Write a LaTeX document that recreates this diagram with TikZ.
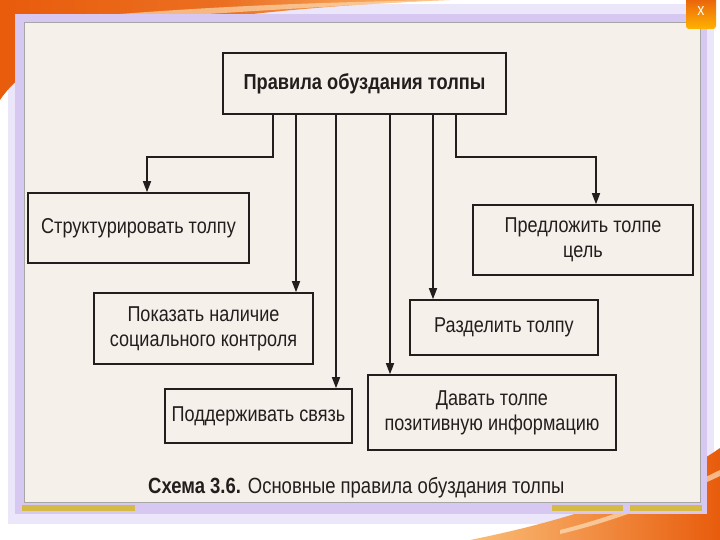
\documentclass[tikz,border=0pt]{standalone}
\usepackage{fontspec}
\newfontfamily\dfont{Liberation Sans}[FakeStretch=0.84]
\usetikzlibrary{arrows.meta}
\definecolor{beige}{RGB}{246,240,234}
\definecolor{lav}{RGB}{214,200,240}
\definecolor{lavlight}{RGB}{236,230,250}
\definecolor{ink}{RGB}{34,30,30}
\definecolor{orngA}{RGB}{232,92,12}
\definecolor{orngB}{RGB}{250,190,120}
\definecolor{gold}{RGB}{214,186,70}
\tikzset{
  box/.style={draw=ink, line width=1.6pt, fill=beige, align=center, inner sep=0pt,
    font=\dfont\fontsize{21.5}{25}\selectfont, text=ink},
  conn/.style={draw=ink, line width=1.6pt},
  arr/.style={conn, -{Triangle[length=11pt,width=8pt]}},
}
\begin{document}
\begin{tikzpicture}[x=1pt,y=-1pt]
\useasboundingbox (0,0) rectangle (720,540);
\fill[white] (0,0) rectangle (720,540);
% glow
\fill[lavlight] (8,4) rectangle (714,524);
% orange swooshes
\shade[left color=orngA, right color=orngB, middle color=orngA!80!orngB]
  (0,0) -- (450,0) .. controls (300,6) and (120,22) .. (45,60) .. controls (25,72) and (10,85) .. (0,100) -- cycle;
\fill[orngB!60!white, opacity=0.7] (120,14) .. controls (250,4) and (350,2) .. (440,0) .. controls (340,6) and (230,12) .. (120,20) -- cycle;
\shade[left color=orngB, right color=orngA]
  (720,448) -- (720,540) -- (470,540) .. controls (570,520) and (660,490) .. (720,448) -- cycle;
\fill[orngB!50!white, opacity=0.7] (560,530) .. controls (620,515) and (680,490) .. (720,470) -- (720,476) .. controls (680,495) and (620,520) .. (560,534) -- cycle;
% panel frame
\fill[lav] (15,14) rectangle (707,514);
\fill[beige] (24,22) rectangle (700,502);
\draw[gray!70, line width=0.8pt] (24,22) rectangle (700,502);
\fill[gold] (22,505) rectangle (135,511);
\fill[gold] (552,505) rectangle (623,511);
\fill[gold] (630,505) rectangle (702,511);
% close button
\shade[top color=orngA, bottom color=orange!60!yellow, rounded corners=3pt] (686,-4) rectangle (716,29);
\node[text=white, font=\dfont\fontsize{17}{17}\selectfont] (xbtn) at (701,11) {x};
% nodes
\node[box, minimum width=283pt, minimum height=61pt, font=\dfont\bfseries\fontsize{21.7}{25}\selectfont] (top) at (364.5,83.5) {Правила обуздания толпы};
\node[box, minimum width=221pt, minimum height=70pt] (s1) at (138.5,228) {Структурировать толпу};
\node[box, minimum width=219pt, minimum height=71pt] (s2) at (203.5,328.5) {Показать наличие\\социального контроля};
\node[box, minimum width=187pt, minimum height=54pt] (s3) at (258.5,416) {Поддерживать связь};
\node[box, minimum width=248pt, minimum height=75pt] (s4) at (492,412.5) {Давать толпе\\позитивную информацию};
\node[box, minimum width=188pt, minimum height=55pt] (s5) at (504,327.5) {Разделить толпу};
\node[box, minimum width=220pt, minimum height=70pt] (s6) at (583,240) {Предложить толпе\\цель};
% connectors
\coordinate (e1) at (273,157);
\coordinate (a1) at (147,157);
\coordinate (e6) at (456,157);
\coordinate (a6) at (596,157);
\coordinate (x2) at (296,0);
\coordinate (x3) at (336,0);
\coordinate (x4) at (390,0);
\coordinate (x5) at (433,0);
\draw[arr] (top.south -| e1) -- (e1) -- (a1) -- (s1.north -| a1);
\draw[arr] (top.south -| e6) -- (e6) -- (a6) -- (s6.north -| a6);
\draw[arr] (top.south -| x2) -- (s2.north -| x2);
\draw[arr] (top.south -| x3) -- (s3.north -| x3);
\draw[arr] (top.south -| x4) -- (s4.north -| x4);
\draw[arr] (top.south -| x5) -- (s5.north -| x5);
% caption
\node[text=ink, font=\dfont\fontsize{22}{25}\selectfont, anchor=west, inner sep=0pt] (cap) at (148,488) {{\bfseries Схема 3.6.} Основные правила обуздания толпы};
\end{tikzpicture}
\end{document}
